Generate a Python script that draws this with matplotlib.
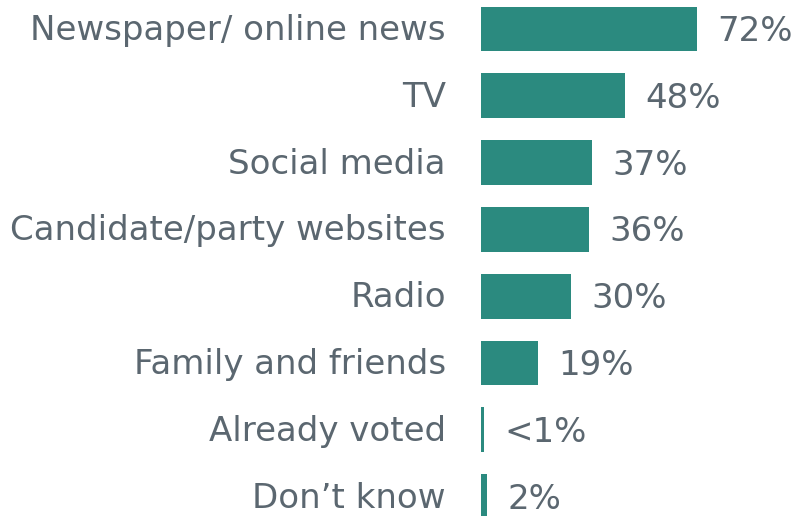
import matplotlib
matplotlib.use("Agg")
import matplotlib.pyplot as plt

categories = ["Newspaper/ online news", "TV", "Social media", "Candidate/party websites",
              "Radio", "Family and friends", "Already voted", "Don\u2019t know"]
values = [72, 48, 37, 36, 30, 19, 1, 2]
labels = ["72%", "48%", "37%", "36%", "30%", "19%", "<1%", "2%"]

bar_color = "#2b8a7f"
text_color = "#5b6770"

W, H = 799, 516
fig = plt.figure(figsize=(W / 100, H / 100), dpi=100)
ax = fig.add_axes([481 / W, 0, 1 - 481 / W, 1])
ax.set_xlim(0, (W - 481) / 3.0)
ax.set_ylim((H - 29.0) / 66.8, -29.0 / 66.8)
ax.axis("off")

ys = list(range(len(categories)))
ax.barh(ys, values, height=0.67, color=bar_color, edgecolor="none")

font = "DejaVu Sans"
fs = 24.5
pt = 72 / 100
for y, cat, v, lab in zip(ys, categories, values, labels):
    ax.annotate(cat, xy=(0, y), xytext=(-35 * pt, -11 * pt), textcoords="offset points",
                ha="right", va="baseline", fontsize=fs, color=text_color, family=font,
                annotation_clip=False)
    ax.annotate(lab, xy=(v, y), xytext=(20 * pt, -12 * pt), textcoords="offset points",
                ha="left", va="baseline", fontsize=fs, color=text_color, family=font,
                annotation_clip=False)

fig.savefig("out.png", dpi=100)
